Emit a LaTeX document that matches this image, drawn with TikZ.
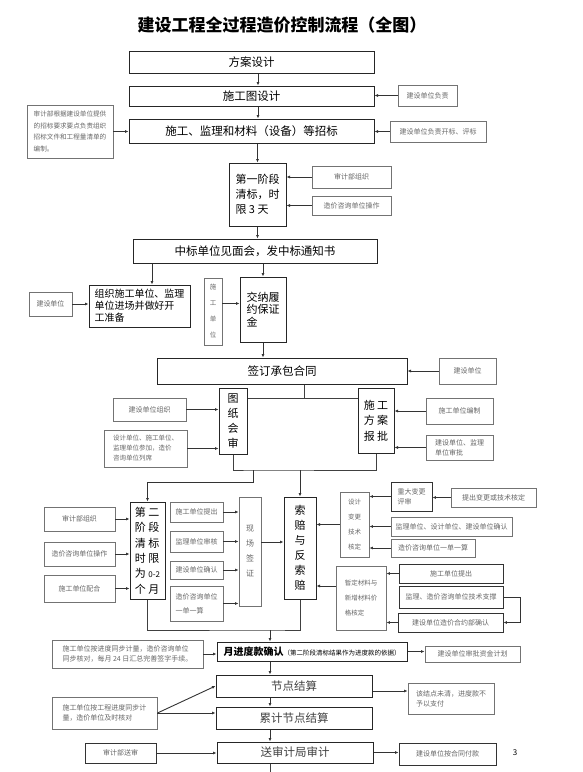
\documentclass[tikz,border=0pt]{standalone}
\usepackage{fontspec}
\setmainfont{Noto Sans CJK SC}
\usetikzlibrary{arrows.meta}
\tikzset{
  mainbox/.style={draw=black!85, line width=1pt, inner sep=1pt, align=center, font=\fontsize{11.5}{14}\selectfont},
  note/.style={draw=black!55, line width=0.9pt, inner sep=1pt, align=left, text=black!60, font=\fontsize{7}{10}\selectfont},
  arr/.style={-{Latex[length=3.5pt,width=3pt]}, line width=0.9pt, draw=black!80},
  link/.style={line width=0.9pt, draw=black!75},
}
\begin{document}
\begin{tikzpicture}[x=1pt,y=-1pt]
  \useasboundingbox (0,0) rectangle (583,772);
  \node[font=\fontsize{17}{20}\selectfont\bfseries] (title) at (282,25) {建设工程全过程造价控制流程（全图）};
  % tendering
  \node[mainbox, minimum width=245pt, minimum height=22pt] (fa) at (251.5,62) {方案设计};
  \node[mainbox, minimum width=245pt, minimum height=20pt] (sgt) at (251.5,96) {施工图设计};
  \node[mainbox, minimum width=245pt, minimum height=24pt] (zb) at (251.5,131) {施工、监理和材料（设备）等招标};
  \node[note, minimum width=59pt, minimum height=21pt] (nfz) at (427.5,95.5) {建设单位负责};
  \node[note, minimum width=96pt, minimum height=21pt] (nkb) at (438,131.5) {建设单位负责开标、评标};
  \node[note, minimum width=86pt, minimum height=53pt, font=\fontsize{6.6}{11.5}\selectfont] (nsj) at (70,131.5) {审计部根据建设单位提供\\的招标要求要点负责组织\\招标文件和工程量清单的\\编制。};
  \node[mainbox, minimum width=57pt, minimum height=63pt, font=\fontsize{11}{15}\selectfont, align=left] (d1) at (257.5,194.5) {第一阶段\\清标，时\\限 3 天};
  \node[note, minimum width=79pt, minimum height=22pt] (nsjzz) at (351.5,177) {审计部组织};
  \node[note, minimum width=79pt, minimum height=19pt] (nzxcz) at (351.5,205.5) {造价咨询单位操作};
  \node[mainbox, minimum width=244pt, minimum height=24pt] (zbtz) at (255,251) {中标单位见面会，发中标通知书};
  % contract
  \node[mainbox, minimum width=101pt, minimum height=42pt, font=\fontsize{10}{12}\selectfont, align=left] (zz) at (139.5,306) {组织施工单位、监理\\单位进场并做好开\\工准备};
  \node[note, minimum width=43pt, minimum height=24pt] (njs1) at (50.5,304) {建设单位};
  \node[note, minimum width=18pt, minimum height=67pt, font=\fontsize{6.5}{16}\selectfont, align=center] (nsg) at (213,311.5) {施\\工\\单\\位};
  \node[mainbox, minimum width=46pt, minimum height=65pt, font=\fontsize{11}{12.5}\selectfont, align=left] (jn) at (263,309.5) {交纳履\\约保证\\金};
  \node[mainbox, minimum width=250pt, minimum height=26pt] (qd) at (282,371) {签订承包合同};
  \node[note, minimum width=57pt, minimum height=26pt] (njs2) at (467.5,371) {建设单位};
  \node[mainbox, minimum width=28pt, minimum height=66pt, font=\fontsize{11}{15}\selectfont] (tz) at (233,421) {图\\纸\\会\\审};
  \node[mainbox, minimum width=36pt, minimum height=65pt, font=\fontsize{11}{15.5}\selectfont] (fab) at (376,420.5) {施 工\\方 案\\报 批};
  \node[note, minimum width=73pt, minimum height=23pt] (njszz) at (149.5,409.5) {建设单位组织};
  \node[note, minimum width=83pt, minimum height=37pt, font=\fontsize{6.5}{10}\selectfont] (nsjdw) at (145.5,448.5) {设计单位、施工单位、\\监理单位参加，造价\\咨询单位列席};
  \node[note, minimum width=67pt, minimum height=26pt] (nsgbz) at (459.5,411) {施工单位编制};
  \node[note, minimum width=67pt, minimum height=25pt] (njsjl) at (459.5,447.5) {建设单位、监理\\单位审批};
  % stage two
  \node[mainbox, minimum width=35pt, minimum height=97pt, font=\fontsize{11}{15.4}\selectfont, align=left] (er) at (147.5,550.5) {第 二\\阶 段\\清 标\\时 限\\为 {\fontsize{8}{8}\selectfont 0-2}\\个 月};
  \node[note, minimum width=71pt, minimum height=24pt] (nsjzz2) at (79.5,519) {审计部组织};
  \node[note, minimum width=71pt, minimum height=24pt] (nzxcz2) at (79.5,554) {造价咨询单位操作};
  \node[note, minimum width=71pt, minimum height=27pt] (nsgph) at (79.5,588.5) {施工单位配合};
  \node[note, minimum width=53pt, minimum height=20pt] (nsgtc) at (196.5,512) {施工单位提出};
  \node[note, minimum width=53pt, minimum height=21pt] (njlsh) at (196.5,541.5) {监理单位审核};
  \node[note, minimum width=53pt, minimum height=18pt] (njsqr) at (196.5,570) {建设单位确认};
  \node[note, minimum width=53pt, minimum height=35pt, font=\fontsize{7}{14}\selectfont] (nzxyd) at (196.5,603.5) {造价咨询单位\\一单一算};
  \node[note, minimum width=22pt, minimum height=109pt, font=\fontsize{8}{15}\selectfont, align=center] (xc) at (250,551.5) {现\\场\\签\\证};
  \node[mainbox, minimum width=32pt, minimum height=102pt, font=\fontsize{11}{15}\selectfont] (sp) at (300,548) {索\\赔\\与\\反\\索\\赔};
  \node[note, minimum width=29pt, minimum height=65pt, font=\fontsize{6.5}{15}\selectfont, align=center] (sb) at (354.5,524.5) {设计\\变更\\技术\\核定};
  \node[note, minimum width=41pt, minimum height=29pt, draw=black!80] (nzdbg) at (411.5,496.5) {重大变更\\评审};
  \node[note, minimum width=85pt, minimum height=19pt] (ntcbg) at (493.5,497.5) {提出变更或技术核定};
  \node[note, minimum width=121pt, minimum height=19pt] (njlsj) at (451.5,526.5) {监理单位、设计单位、建设单位确认};
  \node[note, minimum width=84pt, minimum height=18pt] (nzxyd2) at (433,548) {造价咨询单位一单一算};
  \node[note, minimum width=50pt, minimum height=64pt, font=\fontsize{6.5}{15}\selectfont] (zd) at (361,598) {暂定材料与\\新增材料价\\格核定};
  \node[note, minimum width=104pt, minimum height=19pt, draw=black!80] (nsgtc2) at (451,573.5) {施工单位提出};
  \node[note, minimum width=104pt, minimum height=22pt, draw=black!80] (njlzc) at (451,597) {监理、造价咨询单位技术支撑};
  \node[note, minimum width=105pt, minimum height=19pt, draw=black!80] (njszy) at (450.5,622.5) {建设单位造价合约部确认};
  % payment and settlement
  \node[mainbox, minimum width=190pt, minimum height=19pt, font=\fontsize{6.5}{8}\selectfont] (yjd) at (312,651.5) {{\fontsize{10}{12}\selectfont\bfseries 月进度款确认}（第二阶段清标结果作为进度款的依据）};
  \node[note, minimum width=151pt, minimum height=28pt] (nsgjl) at (127.5,654) {施工单位按进度同步计量，造价咨询单位\\同步核对，每月 24 日汇总完善签字手续。};
  \node[note, minimum width=95pt, minimum height=16pt] (nzjjh) at (472.5,654) {建设单位审批资金计划};
  \node[mainbox, minimum width=156pt, minimum height=22pt, text=black!75] (jd) at (294,686) {节点结算};
  \node[note, minimum width=86pt, minimum height=31pt] (nwq) at (451,698.5) {该结点未清，进度款不\\予以支付};
  \node[note, minimum width=105pt, minimum height=32pt] (ngcjl) at (104.5,713) {施工单位按工程进度同步计\\量，造价单位及时核对};
  \node[mainbox, minimum width=156pt, minimum height=22pt, text=black!75] (lj) at (294,718) {累计节点结算};
  \node[mainbox, minimum width=156pt, minimum height=21pt, text=black!75] (ss) at (295,752.5) {送审计局审计};
  \node[note, minimum width=71pt, minimum height=20pt, draw=black!80] (nsjss) at (120.5,753) {审计部送审};
  \node[note, minimum width=97pt, minimum height=22pt, draw=black!80] (nfk) at (447.5,754) {建设单位按合同付款};
  \node[font=\fontsize{8}{8}\selectfont] (pg) at (515,753) {3};
  % connectors
  \coordinate (ax) at (258,0);
  \coordinate (bx) at (270,0);
  \draw[arr] (fa.south -| ax) -- (sgt.north -| ax);
  \draw[arr] (sgt.south -| ax) -- (zb.north -| ax);
  \draw[arr] (zb.south -| d1) -- (d1.north);
  \draw[arr] (d1.south) -- (zbtz.north -| d1);
  \draw[arr] (nfz.west) -- (nfz.west -| sgt.east);
  \draw[arr] (nkb.west) -- (nkb.west -| zb.east);
  \draw[arr] (nsj.east) -- (nsj.east -| zb.west);
  \draw[arr] (nsjzz.west) -- (nsjzz.west -| d1.east);
  \draw[arr] (nzxcz.west) -- (nzxcz.west -| d1.east);
  \draw[arr] ([xshift=12.5pt]zz.north |- zbtz.south) -- ([xshift=12.5pt]zz.north);
  \draw[arr] (jn.north |- zbtz.south) -- (jn.north);
  \draw[arr] (njs1.east) -- (njs1.east -| zz.west);
  \draw[arr] ([yshift=8pt]nsg.east) -- ([yshift=8pt]nsg.east -| jn.west);
  \draw[arr] (jn.south) -- (qd.north -| jn);
  \draw[arr] (njs2.west) -- (qd.east);
  \coordinate (j1) at (304,398);
  \draw[link] (qd.south -| j1) -- (j1);
  \draw[link] (tz.east |- j1) -- (fab.west |- j1);
  \draw[arr] (njszz.east) -- (njszz.east -| tz.west);
  \draw[arr] (nsjdw.east) -- (nsjdw.east -| tz.west);
  \draw[arr] (nsgbz.west) -- (nsgbz.west -| fab.east);
  \draw[arr] (njsjl.west) -- (njsjl.west -| fab.east);
  \coordinate (j2) at (253,470);
  \draw[link] (tz.south) |- (j2) -| (fab.south);
  \draw[arr] (sp.north |- j2) -- (sp.north);
  \coordinate (j3) at (253,482);
  \draw[arr] (j2) -- (j3) -| (er.north);
  \draw[arr] (nsjzz2.east) -- (nsjzz2.east -| er.west);
  \draw[arr] (nzxcz2.east) -- (nzxcz2.east -| er.west);
  \draw[arr] (nsgph.east) -- (nsgph.east -| er.west);
  \draw[arr] (nsgtc.east) -- (nsgtc.east -| xc.west);
  \draw[arr] (njlsh.east) -- (njlsh.east -| xc.west);
  \draw[arr] (njsqr.east) -- (njsqr.east -| xc.west);
  \draw[arr] (nzxyd.east) -- (nzxyd.east -| xc.west);
  \draw[arr] ([yshift=9.5pt]xc.east) -- ([yshift=9.5pt]xc.east -| sp.west);
  \draw[arr] (sb.west) -- (sb.west -| sp.east);
  \draw[arr] (nzdbg.west) -- (nzdbg.west -| sb.east);
  \draw[arr] (ntcbg.west) -- (ntcbg.west -| nzdbg.east);
  \draw[arr] (njlsj.west) -- (njlsj.west -| sb.east);
  \draw[arr] (nzxyd2.west) -- (nzxyd2.west -| sb.east);
  \draw[arr] ([yshift=12pt]zd.west) -- ([yshift=12pt]zd.west -| sp.east);
  \draw[arr] (nsgtc2.west) -- (nsgtc2.west -| zd.east);
  \draw[arr] (njlzc.east) -- ++(17,0) |- (njszy.east);
  \draw[arr] (njszy.west) -- (njszy.west -| zd.east);
  \coordinate (j4) at (270,630);
  \draw[link] (er.south) |- (j4) -| (sp.south);
  \draw[arr] (j4) -- (yjd.north -| j4);
  \draw[arr] (nsgjl.east) -- (nsgjl.east -| yjd.west);
  \draw[arr] (yjd.east) -- (yjd.east -| nzjjh.west);
  \draw[arr] (yjd.south -| bx) -- (jd.north -| bx);
  \draw[arr] ([yshift=-5pt]jd.east) -- ([yshift=-5pt]jd.east -| nwq.west);
  \draw[arr] (ngcjl.east) -- (jd.west);
  \draw[arr] (ngcjl.east) -- (ngcjl.east -| lj.west);
  \draw[arr] (jd.south -| bx) -- (lj.north -| bx);
  \draw[arr] (lj.south -| bx) -- (ss.north -| bx);
  \draw[arr] (nsjss.east) -- (nsjss.east -| ss.west);
  \draw[arr] (ss.east) -- (ss.east -| nfk.west);
  \coordinate (bot) at (270,772);
  \draw[link] (ss.south -| bx) -- (bot);
\end{tikzpicture}
\end{document}
